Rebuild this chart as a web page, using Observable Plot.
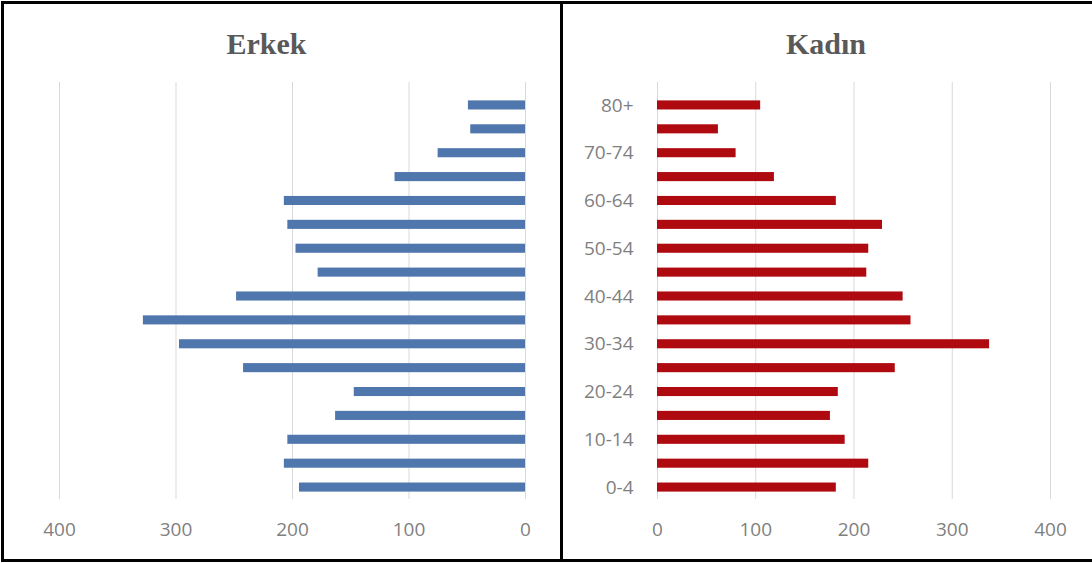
<!DOCTYPE html>
<html>
<head>
<meta charset="utf-8">
<script src="https://cdn.jsdelivr.net/npm/d3@7"></script>
<script src="https://cdn.jsdelivr.net/npm/@observablehq/plot@0.6"></script>
<style>
  html, body { margin: 0; padding: 0; background: #fff; }
  #wrap { position: relative; width: 1092px; height: 563px; overflow: hidden; background: #fff; }
  .panel { position: absolute; top: 0; }
  .bl { position: absolute; background: #000; }
</style>
</head>
<body>
<div id="wrap">
  <div class="panel" id="left" style="left:0px;"></div>
  <div class="panel" id="right" style="left:561px;"></div>
  <div class="bl" style="left:1px;top:1px;width:3px;height:561px;"></div>
  <div class="bl" style="left:1px;top:1px;width:1091px;height:3px;"></div>
  <div class="bl" style="left:1px;top:559px;width:1091px;height:3px;"></div>
  <div class="bl" style="left:560px;top:1px;width:3px;height:561px;"></div>
</div>
<script>
const ageGroups = ["80+","75-79","70-74","65-69","60-64","55-59","50-54","45-49","40-44","35-39","30-34","25-29","20-24","15-19","10-14","5-9","0-4"];
const male   = [49, 47, 75, 112, 207, 204, 197, 178, 248, 328, 297, 242, 147, 163, 204, 207, 194];
const female = [105, 62, 80, 119, 182, 229, 215, 213, 250, 258, 338, 242, 184, 176, 191, 215, 182];
const xTicks = [0, 100, 200, 300, 400];
const yTickLabels = ["80+","70-74","60-64","50-54","40-44","30-34","20-24","10-14","0-4"];

const maleData = ageGroups.map((a, i) => ({age: a, value: male[i]}));
const femaleData = ageGroups.map((a, i) => ({age: a, value: female[i]}));

const font = "Open Sans, Liberation Sans, sans-serif";
const gridColor = "#d9d9d9";
const textColor = "#7f7f7f";
const barInset = 7.4;

const leftPlot = Plot.plot({
  width: 561, height: 563,
  marginLeft: 59, marginRight: 36, marginTop: 82, marginBottom: 64,
  style: {fontFamily: font, fontSize: "19px", color: textColor, background: "transparent", overflow: "visible"},
  x: {domain: [0, 400], reverse: true, label: null},
  y: {domain: ageGroups, range: [93, 499], padding: 0, round: false, label: null},
  marks: [
    Plot.ruleX(xTicks, {stroke: gridColor, strokeWidth: 1}),
    Plot.barX(maleData, {x: "value", y: "age", fill: "#4F77AD", insetTop: barInset, insetBottom: barInset}),
    Plot.axisX({ticks: xTicks, tickSize: 0, tickPadding: 23, label: null, fontSize: 19, fill: textColor}),
    Plot.axisY({ticks: [], tickSize: 0, label: null}),
    Plot.text(["Erkek"], {frameAnchor: "top", dy: -50, dx: -26, text: d => d, fontFamily: "Liberation Serif, serif", fontWeight: "bold", fontSize: 30, fill: "#595959"})
  ]
});
document.getElementById("left").appendChild(leftPlot);

const rightPlot = Plot.plot({
  width: 531, height: 563,
  marginLeft: 96, marginRight: 42, marginTop: 82, marginBottom: 64,
  style: {fontFamily: font, fontSize: "19px", color: textColor, background: "transparent", overflow: "visible"},
  x: {domain: [0, 400], label: null},
  y: {domain: ageGroups, range: [93, 499], padding: 0, round: false, label: null},
  marks: [
    Plot.ruleX(xTicks, {stroke: gridColor, strokeWidth: 1}),
    Plot.barX(femaleData, {x: "value", y: "age", fill: "#AE0A0F", insetTop: barInset, insetBottom: barInset}),
    Plot.axisX({ticks: xTicks, tickSize: 0, tickPadding: 23, label: null, fontSize: 19, fill: textColor}),
    Plot.axisY({ticks: yTickLabels, tickSize: 0, tickPadding: 24, label: null, fontSize: 19, fill: textColor}),
    Plot.text(["Kadın"], {frameAnchor: "top", dy: -50, dx: -28, text: d => d, fontFamily: "Liberation Serif, serif", fontWeight: "bold", fontSize: 30, fill: "#595959"})
  ]
});
document.getElementById("right").appendChild(rightPlot);
</script>
</body>
</html>
